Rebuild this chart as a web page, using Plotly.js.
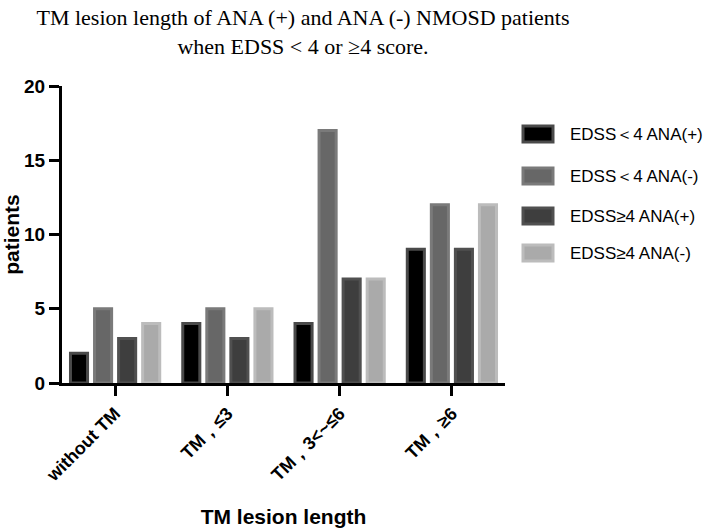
<!DOCTYPE html>
<html>
<head>
<meta charset="utf-8">
<script src="https://cdn.plot.ly/plotly-3.0.1.min.js"></script>
<style>html,body{margin:0;padding:0;background:#fff;}#chart{width:709px;height:530px;}</style>
</head>
<body>
<div id="chart"></div>
<script>
var categories = ["without TM", "TM，≤3", "TM，3<~≤6", "TM，≥6"];
var seriesNames = ["EDSS＜4 ANA(+)", "EDSS＜4 ANA(-)", "EDSS≥4 ANA(+)", "EDSS≥4 ANA(-)"];
var edssLt4AnaPos = [2, 4, 4, 9];
var edssLt4AnaNeg = [5, 5, 17, 12];
var edssGe4AnaPos = [3, 3, 7, 9];
var edssGe4AnaNeg = [4, 5, 7, 12];
var seriesValues = [edssLt4AnaPos, edssLt4AnaNeg, edssGe4AnaPos, edssGe4AnaNeg];
var yTickVals = [0, 5, 10, 15, 20];

var fills = ["#000000", "#676767", "#3e3e3e", "#aaaaaa"];
var edges = ["#4a4a4a", "#7a7a7a", "#505050", "#bcbcbc"];

var W = 709, H = 530;
var L = 62, R = 505, T = 86, B = 383;

var traces = seriesValues.map(function (vals, i) {
  return {
    type: "bar",
    x: categories,
    y: vals,
    name: seriesNames[i],
    marker: { color: fills[i], line: { color: edges[i], width: 3 } },
    showlegend: false,
    hoverinfo: "x+y+name"
  };
});

function px2x(p) { return (p - L) / (R - L); }
function px2y(p) { return (B - p) / (B - T); }

var shapes = [], annotations = [];
var rowY = [134, 176, 216, 253];
seriesNames.forEach(function (n, i) {
  shapes.push({
    type: "rect", xref: "paper", yref: "paper",
    x0: px2x(523), x1: px2x(553), y0: px2y(rowY[i] + 8), y1: px2y(rowY[i] - 8),
    fillcolor: fills[i], line: { color: edges[i], width: 3 }
  });
  annotations.push({
    xref: "paper", yref: "paper", x: px2x(568), y: px2y(rowY[i]),
    xanchor: "left", yanchor: "middle", showarrow: false, text: n,
    font: { family: "Liberation Sans, Arial, sans-serif", size: 17, color: "#000" }
  });
});

var sans = "Liberation Sans, Arial, sans-serif";

var layout = {
  width: W, height: H,
  margin: { l: L, r: W - R, t: T, b: H - B, pad: 0 },
  paper_bgcolor: "#fff", plot_bgcolor: "#fff",
  title: {
    text: "TM lesion length of ANA (+) and ANA (-) NMOSD patients<br>when EDSS < 4 or ≥4 score.",
    font: { family: "Liberation Serif, Times New Roman, serif", size: 22, color: "#000" },
    x: 303 / W, xanchor: "center", y: 1 - 25 / H, yanchor: "middle"
  },
  barmode: "group",
  bargap: 0.143,
  bargroupgap: 0.29,
  xaxis: {
    range: [-0.473, 3.473],
    tickvals: categories,
    ticktext: categories.map(function (c) { return "<b>" + c.replace("<", "&lt;") + "</b>"; }),
    showline: true, linecolor: "#000", linewidth: 3,
    ticks: "outside", ticklen: 10, tickwidth: 3, tickcolor: "#000",
    tickangle: -45,
    tickfont: { family: sans, size: 18, color: "#000" },
    showgrid: false, zeroline: false,
    title: { text: "<b>TM lesion length</b>", standoff: 25,
      font: { family: sans, size: 21, color: "#000" } }
  },
  yaxis: {
    range: [0, 20], tickvals: yTickVals,
    ticktext: yTickVals.map(function (v) { return "<b>" + v + "</b>"; }),
    showline: true, linecolor: "#000", linewidth: 3,
    ticks: "outside", ticklen: 10, tickwidth: 3, tickcolor: "#000",
    tickfont: { family: sans, size: 19, color: "#000" },
    showgrid: false, zeroline: false,
    title: { text: "<b>patients</b>", standoff: 1,
      font: { family: sans, size: 21, color: "#000" } }
  },
  shapes: shapes,
  annotations: annotations
};

Plotly.newPlot("chart", traces, layout, { displayModeBar: false, staticPlot: true });
</script>
</body>
</html>
